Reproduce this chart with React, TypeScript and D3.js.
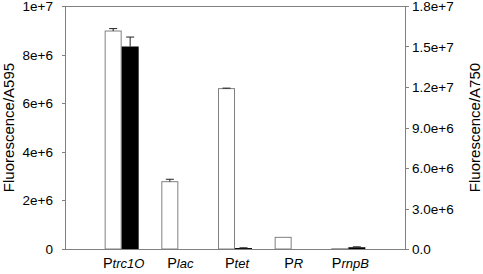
import React from "react";
import * as d3 from "d3";

const categories = ["trc1O", "lac", "tet", "R", "rnpB"];
const a595 = [8.97e6, 2.77e6, 6.6e6, 0.48e6, 0.01e6];
const a595Err = [0.1e6, 0.1e6, 0.02e6, 0, 0];
const a750 = [1.5e7, 0, 0.07e6, 0, 0.13e6];
const a750Err = [0.7e6, 0, 0.02e6, 0, 0.03e6];
const leftTicks = [0, 2e6, 4e6, 6e6, 8e6, 1e7];
const leftTickLabels = ["0", "2e+6", "4e+6", "6e+6", "8e+6", "1e+7"];
const rightTicks = [0, 3e6, 6e6, 9e6, 1.2e7, 1.5e7, 1.8e7];
const rightTickLabels = ["0.0", "3.0e+6", "6.0e+6", "9.0e+6", "1.2e+7", "1.5e+7", "1.8e+7"];

const W = 483, H = 274;
const L = 65, R = 405, T = 6, B = 249;
const font = "Liberation Sans, Arial, sans-serif";
const axisColor = "#808080";

export default function App() {
  const x = d3.scalePoint<string>().domain(categories).range([L, R]).padding(1);
  const yL = d3.scaleLinear().domain([0, 1e7]).range([B, T]);
  const yR = d3.scaleLinear().domain([0, 1.8e7]).range([B, T]);
  const bw = 17;
  const cap = 4;

  return (
    <svg width={W} height={H} style={{ position: "absolute", left: 0, top: 0, background: "#fff" }}>
      {categories.map((c, i) => {
        const cx = x(c)!;
        const yw = yL(a595[i]);
        const yb = yR(a750[i]);
        const ew = yL(a595[i] + a595Err[i]);
        const eb = yR(a750[i] + a750Err[i]);
        return (
          <g key={c}>
            <rect x={cx - bw + 0.5} y={yw} width={bw - 1} height={B - yw} fill="#fff" stroke={axisColor} strokeWidth={1} />
            {a595Err[i] > 0 && (
              <g stroke="#222" strokeWidth={1}>
                <line x1={cx - bw / 2} x2={cx - bw / 2} y1={yw} y2={ew} />
                <line x1={cx - bw / 2 - cap} x2={cx - bw / 2 + cap} y1={ew} y2={ew} />
              </g>
            )}
            {a750[i] > 0 && <rect x={cx} y={yb} width={bw} height={B - yb} fill="#000" />}
            {a750Err[i] > 0 && (
              <g stroke="#222" strokeWidth={1}>
                <line x1={cx + bw / 2} x2={cx + bw / 2} y1={yb} y2={eb} />
                <line x1={cx + bw / 2 - cap} x2={cx + bw / 2 + cap} y1={eb} y2={eb} />
              </g>
            )}
          </g>
        );
      })}
      <g stroke={axisColor} strokeWidth={1} fill="none">
        <line x1={L + 0.5} x2={L + 0.5} y1={T} y2={B + 0.5} />
        <line x1={R + 0.5} x2={R + 0.5} y1={T} y2={B + 0.5} />
        <line x1={L} x2={R + 1} y1={T + 0.5} y2={T + 0.5} />
        <line x1={L} x2={R + 1} y1={B + 0.5} y2={B + 0.5} />
      </g>
      {leftTicks.map((t, i) => (
        <g key={"l" + t}>
          <line x1={L - 3} x2={L} y1={Math.round(yL(t)) + 0.5} y2={Math.round(yL(t)) + 0.5} stroke={axisColor} />
          <text x={L - 12} y={yL(t) + 5} textAnchor="end" fontFamily={font} fontSize={13.5} fill="#000">
            {leftTickLabels[i]}
          </text>
        </g>
      ))}
      {rightTicks.map((t, i) => (
        <g key={"r" + t}>
          <line x1={R + 1} x2={R + 4} y1={Math.round(yR(t)) + 0.5} y2={Math.round(yR(t)) + 0.5} stroke={axisColor} />
          <text x={R + 7} y={yR(t) + 5} textAnchor="start" fontFamily={font} fontSize={13.5} fill="#000">
            {rightTickLabels[i]}
          </text>
        </g>
      ))}
      <text transform={`translate(14,${(T + B) / 2}) rotate(-90)`} textAnchor="middle" fontFamily={font} fontSize={15} fill="#000">
        Fluorescence/A595
      </text>
      <text transform={`translate(480,${(T + B) / 2}) rotate(-90)`} textAnchor="middle" fontFamily={font} fontSize={15} fill="#000">
        Fluorescence/A750
      </text>
      {categories.map((c) => (
        <text key={"c" + c} x={x(c)! + 2} y={268} textAnchor="middle" fontFamily={font} fill="#000">
          <tspan fontSize={14.5}>P</tspan>
          <tspan fontSize={13} fontStyle="italic">{c}</tspan>
        </text>
      ))}
    </svg>
  );
}
